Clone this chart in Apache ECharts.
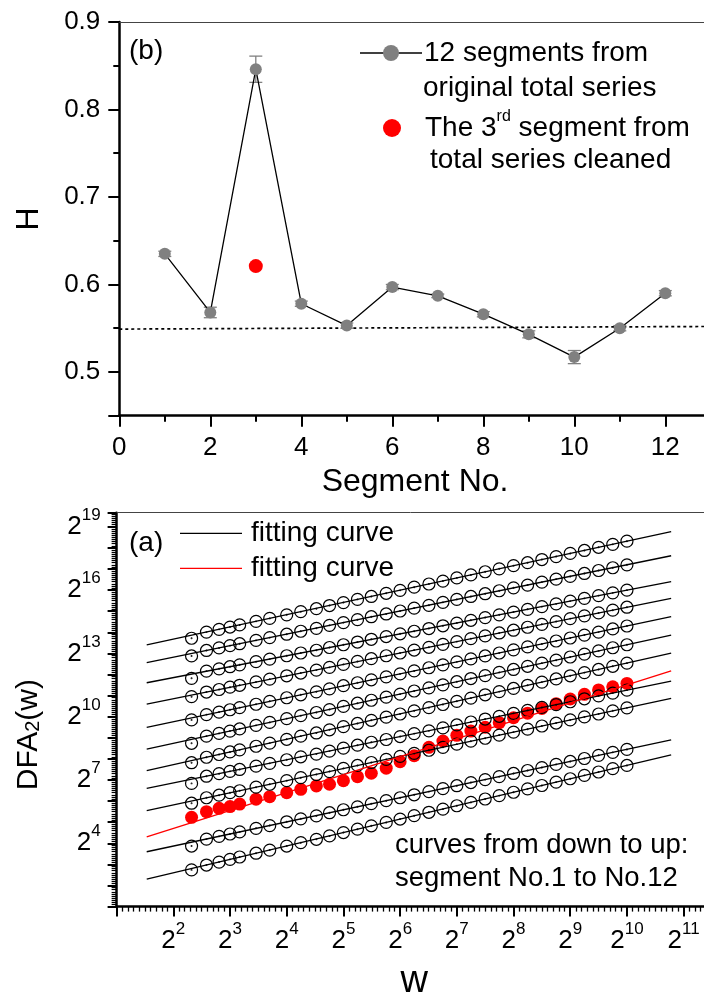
<!DOCTYPE html>
<html>
<head>
<meta charset="utf-8">
<script src="https://cdn.jsdelivr.net/npm/echarts@6/dist/echarts.min.js"></script>
<style>
  html, body { margin: 0; padding: 0; background: #fff; }
  #chart { width: 704px; height: 999px; }
</style>
</head>
<body>
<div id="chart"></div>
<script>
const FONT = '"Liberation Sans", Arial, Helvetica, sans-serif';

// ---- Panel (b): Hurst exponent per segment ----
const segmentNo = [1, 2, 3, 4, 5, 6, 7, 8, 9, 10, 11, 12];
const hurstOriginal = [0.635, 0.568, 0.846, 0.578, 0.553, 0.597, 0.587, 0.566, 0.543, 0.517, 0.550, 0.590];
const hurstError = [0.003, 0.006, 0.015, 0.003, 0.003, 0.003, 0.002, 0.003, 0.004, 0.0075, 0.003, 0.003];
const cleanedSegment = 3;
const hurstCleaned = 0.621;
const referenceX = [0, 13];
const referenceH = [0.549, 0.552];

// ---- Panel (a): DFA2 fluctuation functions (values as powers of 2) ----
const windowSizes = [5, 6, 7, 8, 9, 11, 13, 16, 19, 23, 27, 32, 38, 45, 54, 64, 76, 91, 108, 128,
  152, 181, 215, 256, 304, 362, 431, 512, 609, 724, 861, 1024];
const dfaLog2Seg1 = [2.74, 2.97, 3.11, 3.24, 3.35, 3.53, 3.68, 3.87, 4.03, 4.19, 4.35, 4.51, 4.67, 4.83, 4.99, 5.15, 5.31, 5.47, 5.62, 5.78, 5.94, 6.10, 6.26, 6.42, 6.58, 6.74, 6.90, 7.06, 7.22, 7.38, 7.54, 7.69];
const dfaLog2Seg2 = [3.87, 4.20, 4.33, 4.44, 4.54, 4.71, 4.84, 5.02, 5.16, 5.30, 5.45, 5.59, 5.73, 5.88, 6.02, 6.16, 6.30, 6.45, 6.59, 6.73, 6.88, 7.02, 7.16, 7.31, 7.45, 7.59, 7.74, 7.88, 8.02, 8.17, 8.31, 8.45];
const dfaLog2Seg3 = [5.23, 5.50, 5.66, 5.74, 5.86, 6.09, 6.21, 6.40, 6.56, 6.72, 6.80, 6.97, 7.16, 7.32, 7.56, 7.87, 8.15, 8.55, 8.85, 9.12, 9.32, 9.50, 9.72, 9.95, 10.17, 10.39, 10.62, 10.84, 11.06, 11.27, 11.42, 11.58];
const dfaLog2Seg4 = [5.90, 6.16, 6.28, 6.40, 6.49, 6.66, 6.80, 6.97, 7.11, 7.26, 7.40, 7.55, 7.69, 7.83, 7.98, 8.12, 8.26, 8.41, 8.55, 8.70, 8.84, 8.98, 9.13, 9.27, 9.41, 9.56, 9.70, 9.85, 9.99, 10.13, 10.28, 10.42];
const dfaLog2Seg5 = [6.84, 7.18, 7.30, 7.41, 7.50, 7.66, 7.79, 7.96, 8.10, 8.23, 8.37, 8.51, 8.65, 8.79, 8.92, 9.06, 9.20, 9.33, 9.47, 9.61, 9.75, 9.89, 10.02, 10.16, 10.30, 10.44, 10.57, 10.71, 10.85, 10.99, 11.12, 11.26];
const dfaLog2Seg6 = [7.82, 8.08, 8.21, 8.33, 8.43, 8.60, 8.75, 8.93, 9.08, 9.23, 9.38, 9.53, 9.68, 9.83, 9.98, 10.13, 10.28, 10.43, 10.58, 10.73, 10.88, 11.04, 11.19, 11.34, 11.49, 11.64, 11.79, 11.94, 12.09, 12.24, 12.39, 12.54];
const dfaLog2Seg7 = [8.74, 9.08, 9.21, 9.32, 9.42, 9.59, 9.73, 9.91, 10.05, 10.20, 10.34, 10.49, 10.64, 10.78, 10.93, 11.07, 11.22, 11.37, 11.51, 11.66, 11.81, 11.95, 12.10, 12.24, 12.39, 12.54, 12.68, 12.83, 12.97, 13.12, 13.27, 13.41];
const dfaLog2Seg8 = [9.85, 10.10, 10.22, 10.33, 10.43, 10.59, 10.73, 10.90, 11.04, 11.18, 11.32, 11.47, 11.61, 11.75, 11.89, 12.03, 12.17, 12.32, 12.46, 12.60, 12.74, 12.88, 13.02, 13.17, 13.31, 13.45, 13.59, 13.73, 13.87, 14.01, 14.16, 14.30];
const dfaLog2Seg9 = [10.95, 11.17, 11.29, 11.40, 11.49, 11.65, 11.78, 11.94, 12.07, 12.21, 12.34, 12.48, 12.62, 12.75, 12.89, 13.02, 13.16, 13.29, 13.43, 13.56, 13.70, 13.83, 13.97, 14.10, 14.24, 14.38, 14.51, 14.65, 14.78, 14.92, 15.05, 15.19];
const dfaLog2Seg10 = [11.82, 12.16, 12.27, 12.37, 12.46, 12.61, 12.73, 12.89, 13.02, 13.15, 13.28, 13.41, 13.54, 13.67, 13.80, 13.93, 14.05, 14.18, 14.31, 14.44, 14.57, 14.70, 14.83, 14.96, 15.09, 15.22, 15.35, 15.48, 15.61, 15.74, 15.87, 16.00];
const dfaLog2Seg11 = [12.88, 13.14, 13.26, 13.37, 13.46, 13.62, 13.75, 13.91, 14.05, 14.19, 14.33, 14.46, 14.60, 14.74, 14.87, 15.01, 15.15, 15.28, 15.42, 15.56, 15.70, 15.83, 15.97, 16.11, 16.24, 16.38, 16.52, 16.65, 16.79, 16.93, 17.06, 17.20];
const dfaLog2Seg12 = [13.72, 14.01, 14.14, 14.25, 14.35, 14.52, 14.66, 14.83, 14.98, 15.12, 15.27, 15.41, 15.56, 15.70, 15.85, 15.99, 16.14, 16.29, 16.43, 16.58, 16.72, 16.87, 17.01, 17.16, 17.30, 17.45, 17.59, 17.74, 17.88, 18.03, 18.17, 18.32];

// straight-line fits in log-log space: window range and end values (powers of 2)
const fitWindowRange = [2.89, 1758];
const fitStartLog2 = [2.30, 3.60, 4.31, 5.55, 6.60, 7.44, 8.46, 9.50, 10.60, 11.61, 12.56, 13.40];
const fitEndLog2 = [8.19, 8.90, 12.17, 10.87, 11.69, 13.01, 13.87, 14.74, 15.61, 16.40, 17.63, 18.77];

const dfaSegments = [dfaLog2Seg1, dfaLog2Seg2, dfaLog2Seg3, dfaLog2Seg4, dfaLog2Seg5, dfaLog2Seg6,
  dfaLog2Seg7, dfaLog2Seg8, dfaLog2Seg9, dfaLog2Seg10, dfaLog2Seg11, dfaLog2Seg12];
const highlightedSegment = 3;

// ---- helpers ----
const isInt = v => Math.abs(v - Math.round(v)) < 1e-6;
const powRich = {
  b: { fontSize: 26, lineHeight: 40, verticalAlign: 'middle', color: '#000', fontFamily: FONT },
  s: { fontSize: 17, lineHeight: 17, verticalAlign: 'top', color: '#000', fontFamily: FONT }
};
const powerLabel = n => '{b|2}{s|' + n + '}';

// open circle with a tiny centre dot
const ringSymbol = 'path://M10,0A10,10,0,1,1,-10,0A10,10,0,1,1,10,0ZM0.6,0A0.6,0.6,0,1,1,-0.6,0A0.6,0.6,0,1,1,0.6,0Z';

function errorBarItem(params, api) {
  const x = api.value(0), y = api.value(1), e = api.value(2);
  const top = api.coord([x, y + e]);
  const bot = api.coord([x, y - e]);
  const hw = 6.5;
  const st = { stroke: '#808080', lineWidth: 1.3 };
  return {
    type: 'group',
    children: [
      { type: 'line', shape: { x1: top[0], y1: top[1], x2: bot[0], y2: bot[1] }, style: st },
      { type: 'line', shape: { x1: top[0] - hw, y1: top[1], x2: top[0] + hw, y2: top[1] }, style: st },
      { type: 'line', shape: { x1: bot[0] - hw, y1: bot[1], x2: bot[0] + hw, y2: bot[1] }, style: st }
    ]
  };
}

const series = [
  {
    type: 'line', xAxisIndex: 0, yAxisIndex: 0, silent: true, z: 1,
    data: referenceX.map((x, i) => [x, referenceH[i]]),
    symbol: 'none', lineStyle: { color: '#000', width: 1.7, type: [3, 3] }
  },
  {
    type: 'custom', xAxisIndex: 0, yAxisIndex: 0, z: 2,
    renderItem: errorBarItem,
    data: segmentNo.map((s, i) => [s, hurstOriginal[i], hurstError[i]])
  },
  {
    type: 'line', name: '12 segments from original total series', xAxisIndex: 0, yAxisIndex: 0, z: 3,
    data: segmentNo.map((s, i) => [s, hurstOriginal[i]]),
    symbol: 'circle', symbolSize: 12,
    lineStyle: { color: '#000', width: 1.3 },
    itemStyle: { color: '#808080', opacity: 1 }
  },
  {
    type: 'scatter', name: 'The 3rd segment from total series cleaned', xAxisIndex: 0, yAxisIndex: 0, z: 4,
    data: [[cleanedSegment, hurstCleaned]],
    symbol: 'circle', symbolSize: 14, itemStyle: { color: '#ff0000', opacity: 1 }
  }
];

const fitX = fitWindowRange.map(w => Math.log2(w));
dfaSegments.forEach((vals, i) => {
  const red = (i + 1) === highlightedSegment;
  series.push({
    type: 'line', xAxisIndex: 2, yAxisIndex: 1, silent: true, z: red ? 6 : 3,
    data: [[fitX[0], fitStartLog2[i]], [fitX[1], fitEndLog2[i]]],
    symbol: 'none',
    lineStyle: { color: red ? '#ff0000' : '#000', width: 1.3 }
  });
  series.push({
    type: 'scatter', xAxisIndex: 2, yAxisIndex: 1, z: red ? 2 : 4,
    data: windowSizes.map((w, k) => [Math.log2(w), vals[k]]),
    symbol: red ? 'circle' : ringSymbol,
    symbolSize: red ? 13 : 12,
    itemStyle: red
      ? { color: '#ff0000', opacity: 1 }
      : { color: 'rgba(0,0,0,0)', borderColor: '#000', borderWidth: 1.2, opacity: 1 }
  });
});

const textBase = { fontFamily: FONT, fill: '#000' };

const option = {
  animation: false,
  backgroundColor: '#fff',
  textStyle: { fontFamily: FONT },
  grid: [
    { left: 119.3, top: 22, width: 591.5, height: 393.7, containLabel: false, outerBoundsMode: 'none' },
    { left: 116.6, top: 512.7, width: 595.4, height: 393.9, containLabel: false, outerBoundsMode: 'none' }
  ],
  xAxis: [
    {
      gridIndex: 0, type: 'value', min: 0, max: 13, interval: 2, position: 'bottom',
      axisLine: { onZero: false, lineStyle: { color: '#000', width: 2.5 } },
      axisTick: { length: 11, lineStyle: { width: 2 } },
      minorTick: { show: true, splitNumber: 2, length: 6, lineStyle: { color: '#000', width: 2 } },
      splitLine: { show: false }, minorSplitLine: { show: false },
      axisLabel: { fontSize: 26, color: '#000', margin: 19, showMaxLabel: false, fontFamily: FONT },
      name: 'Segment No.', nameLocation: 'middle', nameGap: 50, nameMoveOverlap: false,
      nameTextStyle: { fontSize: 32, color: '#000', fontFamily: FONT }
    },
    {
      gridIndex: 0, type: 'value', min: 0, max: 13, position: 'top',
      axisLine: { onZero: false, lineStyle: { color: '#444', width: 1 } },
      axisTick: { show: false }, axisLabel: { show: false }, splitLine: { show: false }
    },
    {
      gridIndex: 1, type: 'value', min: 1, max: 11.5, interval: 1, position: 'bottom',
      axisLine: { onZero: false, lineStyle: { color: '#000', width: 2.5 } },
      axisTick: { length: 10, lineStyle: { width: 2 } },
      minorTick: { show: true, splitNumber: 10, length: 5, lineStyle: { color: '#000', width: 1.3 } },
      splitLine: { show: false },
      axisLabel: {
        margin: 14, showMinLabel: false, showMaxLabel: false,
        formatter: v => (isInt(v) && v >= 2 && v <= 11) ? powerLabel(Math.round(v)) : '',
        rich: powRich
      },
      name: 'w', nameLocation: 'middle', nameGap: 56, nameMoveOverlap: false,
      nameTextStyle: { fontSize: 38, color: '#000', fontFamily: FONT }
    },
    {
      gridIndex: 1, type: 'value', min: 1, max: 11.5, position: 'top',
      axisLine: { onZero: false, lineStyle: { color: '#444', width: 1 } },
      axisTick: { show: false }, axisLabel: { show: false }, splitLine: { show: false }
    }
  ],
  yAxis: [
    {
      gridIndex: 0, type: 'value', min: 0.45, max: 0.9, splitNumber: 5,
      axisLine: { onZero: false, lineStyle: { color: '#000', width: 2.5 } },
      axisTick: { length: 11, lineStyle: { width: 2 } },
      minorTick: { show: true, splitNumber: 2, length: 6, lineStyle: { color: '#000', width: 2 } },
      splitLine: { show: false },
      axisLabel: { fontSize: 26, color: '#000', margin: 19, showMinLabel: false, fontFamily: FONT,
        formatter: v => v.toFixed(1) },
      name: 'H', nameLocation: 'middle', nameRotate: 90, nameGap: 74, nameMoveOverlap: false,
      nameTextStyle: { fontSize: 32, color: '#000', fontFamily: FONT }
    },
    {
      gridIndex: 1, type: 'value', min: 1, max: 19.67, interval: 1,
      axisLine: { onZero: false, lineStyle: { color: '#000', width: 2.5 } },
      axisTick: { length: 9, lineStyle: { width: 2 } },
      minorTick: { show: true, splitNumber: 10, length: 5, lineStyle: { color: '#000', width: 1.2 } },
      splitLine: { show: false },
      axisLabel: {
        margin: 16, showMinLabel: false, showMaxLabel: false,
        formatter: v => (isInt(v) && [4, 7, 10, 13, 16, 19].indexOf(Math.round(v)) >= 0) ? powerLabel(Math.round(v)) : '',
        rich: powRich
      },
      name: 'DFA{sub|2}(w)', nameLocation: 'middle', nameRotate: 90, nameGap: 73, nameMoveOverlap: false,
      nameTextStyle: {
        fontSize: 30, color: '#000', fontFamily: FONT, padding: [0, 50, 0, 0],
        rich: { sub: { fontSize: 20, verticalAlign: 'bottom', fontFamily: FONT, color: '#000' } }
      }
    }
  ],
  graphic: [
    // panel labels
    { type: 'text', left: 129, top: 37, style: Object.assign({ text: '(b)', fontSize: 28 }, textBase) },
    { type: 'text', left: 129, top: 529, style: Object.assign({ text: '(a)', fontSize: 28 }, textBase) },
    // legend, panel (b)
    { type: 'line', shape: { x1: 360, y1: 53, x2: 422, y2: 53 }, style: { stroke: '#000', lineWidth: 1.3 } },
    { type: 'circle', shape: { cx: 391, cy: 53, r: 8 }, style: { fill: '#808080' } },
    { type: 'text', x: 424, y: 53, style: Object.assign({ text: '12 segments from', fontSize: 28, verticalAlign: 'middle' }, textBase) },
    { type: 'text', x: 423, y: 88, style: Object.assign({ text: 'original total series', fontSize: 28, verticalAlign: 'middle' }, textBase) },
    { type: 'circle', shape: { cx: 392, cy: 128, r: 9 }, style: { fill: '#ff0000' } },
    {
      type: 'text', x: 425, y: 128,
      style: Object.assign({
        text: 'The 3{sup|rd} segment from', fontSize: 28, lineHeight: 38, verticalAlign: 'middle',
        rich: { sup: { fontSize: 16, lineHeight: 16, verticalAlign: 'top', fontFamily: FONT, fill: '#000' } }
      }, textBase)
    },
    { type: 'text', x: 430, y: 160, style: Object.assign({ text: 'total series cleaned', fontSize: 28, verticalAlign: 'middle' }, textBase) },
    // legend, panel (a)
    { type: 'line', shape: { x1: 180, y1: 533.3, x2: 242, y2: 533.3 }, style: { stroke: '#000', lineWidth: 1.3 } },
    { type: 'text', x: 251, y: 533, style: Object.assign({ text: 'fitting curve', fontSize: 28, verticalAlign: 'middle' }, textBase) },
    { type: 'line', shape: { x1: 180, y1: 568.3, x2: 242, y2: 568.3 }, style: { stroke: '#ff0000', lineWidth: 1.3 } },
    { type: 'text', x: 251, y: 568, style: Object.assign({ text: 'fitting curve', fontSize: 28, verticalAlign: 'middle' }, textBase) },
    // annotation
    { type: 'text', x: 395, y: 845, style: Object.assign({ text: 'curves from down to up:', fontSize: 27.5, verticalAlign: 'middle' }, textBase) },
    { type: 'text', x: 395, y: 878, style: Object.assign({ text: 'segment No.1 to No.12', fontSize: 27.5, verticalAlign: 'middle' }, textBase) }
  ],
  series: series
};

const chart = echarts.init(document.getElementById('chart'));
chart.setOption(option);
</script>
</body>
</html>
